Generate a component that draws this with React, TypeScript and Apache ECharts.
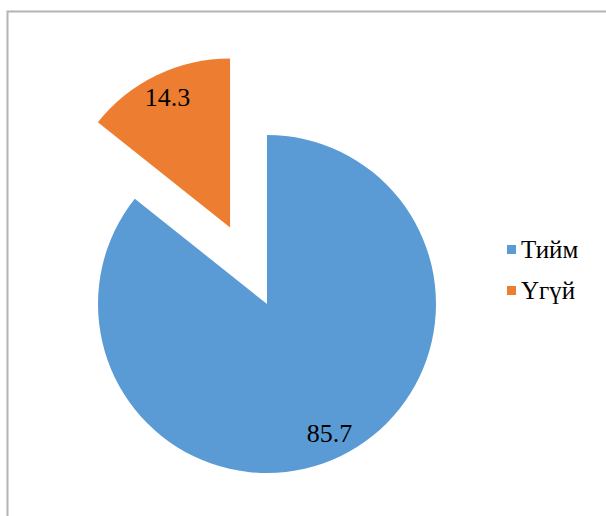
import React, { useEffect, useRef } from "react";
import * as echarts from "echarts";

const categories = ["Тийм", "Үгүй"];
const values = [85.7, 14.3];
const colors = ["#5B9BD5", "#ED7D31"];
const explodedIndex = 1;

export default function App() {
  const ref = useRef<HTMLDivElement>(null);
  useEffect(() => {
    if (!ref.current) return;
    const chart = echarts.init(ref.current, null, { renderer: "svg" });
    const font = "Liberation Serif";
    const data = categories.map((name, i) => ({
      name,
      value: values[i],
      selected: i === explodedIndex,
      itemStyle: { color: colors[i] },
    }));
    chart.setOption({
      animation: false,
      backgroundColor: "#ffffff",
      graphic: [
        {
          type: "rect",
          shape: { x: 7.5, y: 11.5, width: 700, height: 600 },
          style: { fill: "none", stroke: "#b4b4b4", lineWidth: 2 },
          silent: true,
        },
      ],
      legend: {
        orient: "vertical",
        left: 502,
        top: 232,
        itemWidth: 9,
        itemHeight: 9,
        itemGap: 16,
        icon: "rect",
        data: categories,
        textStyle: { fontFamily: font, fontSize: 25, color: "#000" },
      },
      series: [
        {
          type: "pie",
          center: [267, 304],
          radius: [0, 169],
          clockwise: true,
          startAngle: 90,
          selectedMode: "single",
          selectedOffset: 85,
          label: { show: false },
          labelLine: { show: false },
          emphasis: { disabled: true },
          data,
        },
        {
          type: "pie",
          center: [267, 304],
          radius: [113, 169],
          clockwise: true,
          startAngle: 90,
          silent: true,
          selectedMode: "single",
          selectedOffset: 85,
          itemStyle: { color: "rgba(0,0,0,0)" },
          label: {
            show: true,
            position: "inside",
            formatter: "{c}",
            fontFamily: font,
            fontSize: 26,
            color: "#000",
          },
          labelLine: { show: false },
          emphasis: { disabled: true },
          data: categories.map((name, i) => ({
            name,
            value: values[i],
            selected: i === explodedIndex,
          })),
        },
      ],
    });
    return () => chart.dispose();
  }, []);
  return (
    <div
      ref={ref}
      style={{ position: "absolute", left: 0, top: 0, width: 606, height: 516 }}
    />
  );
}
